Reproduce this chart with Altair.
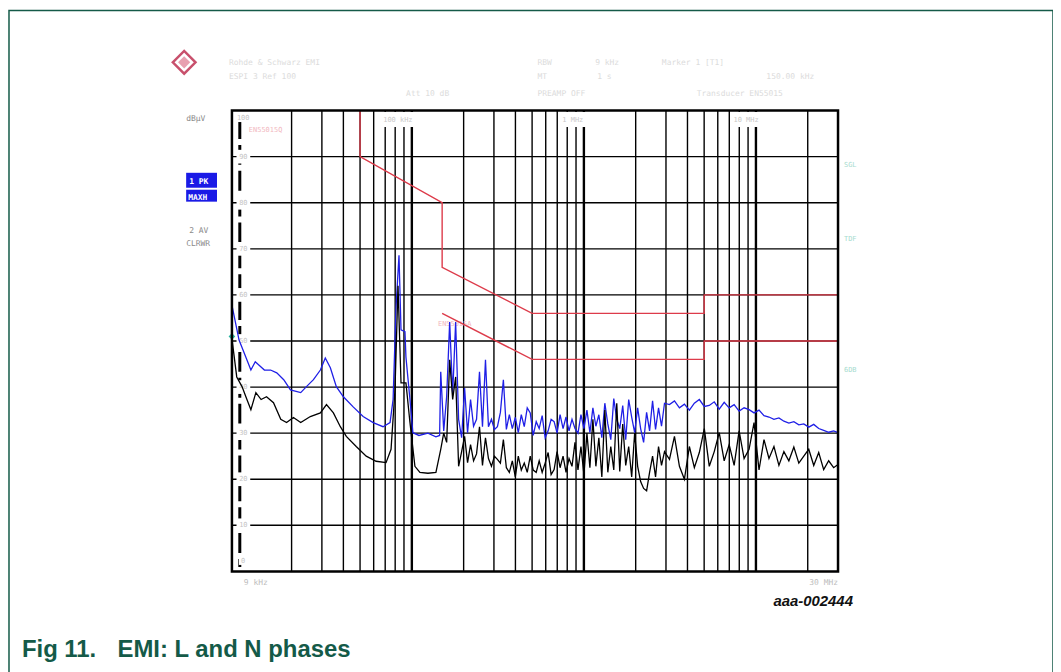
import altair as alt
import pandas as pd

# ---------------- data ----------------
# Low band (9 kHz .. 145 kHz) readings, frequency in kHz, level in dBuV
pk_low_freq = [9.0, 9.9, 10.55, 11.6, 12.3, 13.9, 15.1, 16.4, 18.0, 19.7, 22.6, 24.4, 26.8, 29.4,
               31.4, 33.6, 36.4, 40.0, 45.6, 52.1, 59.6, 68.0, 74.7, 77.8, 80.9, 84.2, 86.5, 91.2,
               92.4, 97.5, 101.4, 110, 124, 138, 145]
pk_low_level = [57.8, 50.2, 47.6, 43.7, 45.5, 43.7, 43.7, 43.1, 41.6, 39.4, 38.8, 40.1, 41.6, 43.7,
                46.3, 44.2, 40.1, 37.9, 35.7, 33.6, 32.3, 31.4, 32.3, 37.3, 57.3, 68.6, 52.4, 52.0,
                46.5, 37.3, 30.1, 29.5, 30.0, 29.2, 29.5]
av_low_freq = [9.0, 9.6, 10.3, 11.0, 11.6, 12.4, 13.3, 14.3, 15.7, 17.3, 18.7, 20.5, 22.6, 25.7,
               29.4, 31.9, 35.0, 38.4, 41.6, 47.5, 54.3, 62.0, 70.8, 75.7, 79.8, 83.1, 86.5, 92.4,
               97.5, 104.2, 111.4, 124, 138]
av_low_level = [50.5, 42.2, 40.1, 37.3, 35.1, 38.8, 37.3, 37.9, 36.6, 33.0, 32.3, 33.4, 32.3, 33.6,
                34.4, 36.2, 34.4, 31.4, 29.3, 27.1, 25.0, 23.9, 23.6, 26.5, 39.4, 62.0, 40.9, 40.9,
                32.3, 22.8, 21.5, 21.3, 21.5]

# High band (147 kHz .. 30 MHz) readings, shared frequency points in kHz
hi_freq = [147.2, 153.2, 159.4, 165.9, 172.7, 179.7, 187.0, 194.7, 202.6, 210.8,
           219.4, 228.4, 237.7, 247.3, 257.4, 267.9, 278.8, 290.2, 302.0, 314.3,
           327.1, 340.4, 354.3, 368.7, 383.7, 399.4, 415.6, 432.6, 450.2, 468.5,
           487.6, 507.5, 528.2, 549.7, 572.1, 595.4, 619.7, 644.9, 671.2, 698.5,
           727.0, 756.6, 787.4, 819.5, 852.9, 887.6, 923.8, 961.4, 1000.6, 1041.4,
           1083.8, 1128.0, 1173.9, 1221.8, 1271.5, 1323.3, 1377.2, 1433.3, 1491.7, 1552.5,
           1615.8, 1681.6, 1750.1, 1821.4, 1895.6, 1972.8, 2053.2, 2136.9, 2224.0, 2314.6,
           2408.9, 2507.0, 2609.1, 2715.4, 2826.1, 2941.2,
           3143.7, 3360.1, 3591.5, 3838.7, 4103.0, 4385.5, 4687.4, 5010.1, 5355.0, 5723.7,
           6117.7, 6538.9, 6989.0, 7470.2, 7984.5, 8534.2, 9121.7, 9749.6, 10420.8, 11138.2,
           11905.0, 12724.6, 13600.6, 14536.9, 15537.7, 16607.3, 17750.6, 18972.6, 20278.7, 21674.8,
           23167.0, 24761.9, 26466.6, 28288.7, 30000]
pk_hi_level = [43.3, 30.5, 38.0, 54.1, 38.5, 54.1, 33.0, 29.0, 39.8, 30.1,
               37.3, 31.5, 33.0, 43.3, 31.4, 45.9, 31.4, 33.0, 30.8, 31.4,
               34.5, 41.6, 30.8, 34.0, 31.0, 33.4, 30.1, 34.0, 31.4, 35.5,
               34.4, 29.5, 32.5, 31.0, 33.8, 29.0, 30.5, 33.0, 32.5, 30.0,
               34.0, 31.0, 33.5, 30.5, 33.0, 31.0, 30.0, 34.0, 31.0, 35.0,
               30.1, 35.5, 31.5, 34.0, 29.0, 36.5, 32.0, 28.6, 37.5, 33.0,
               31.0, 36.0, 28.6, 37.3, 33.5, 30.1, 35.5, 31.0, 28.0, 34.5,
               30.5, 37.0, 30.8, 35.5, 31.5, 36.5,
               36.2, 37.0, 35.5, 36.3, 35.0, 36.5, 37.3, 35.8, 36.0, 36.8,
               35.2, 36.7, 35.5, 36.2, 34.8, 35.5, 35.1, 34.4, 35.0, 33.8,
               33.5, 33.0, 33.3, 32.6, 32.2, 32.5, 31.8, 32.0, 31.3, 31.9,
               31.0, 30.6, 30.2, 30.5, 30.1]
av_hi_level = [26.5, 30.0, 28.0, 45.9, 37.3, 42.2, 22.8, 26.0, 29.3, 23.6,
               27.5, 24.0, 25.5, 31.4, 23.0, 29.0, 24.5, 22.8, 25.0, 24.3,
               23.5, 28.6, 22.5, 21.5, 24.0, 20.5, 25.0, 22.0, 23.5, 21.5,
               25.0, 22.0, 21.5, 24.0, 21.5, 23.5, 25.8, 21.0, 22.1, 26.0,
               22.5, 25.0, 21.5, 24.5, 22.8, 28.0, 22.0, 27.1, 21.0, 30.0,
               22.5, 33.0, 22.8, 29.0, 20.5, 35.0, 21.5, 27.1, 22.0, 36.5,
               21.7, 32.0, 23.0, 27.1, 20.5, 30.0, 22.8, 19.5, 18.0, 17.5,
               21.5, 25.0, 20.5, 27.1, 23.0, 26.0,
               24.3, 29.3, 22.8, 20.0, 27.1, 22.5, 25.8, 31.0, 22.8, 26.0,
               30.1, 24.0, 27.5, 23.0, 30.5, 24.5, 26.5, 32.3, 22.0, 28.6,
               24.5, 27.1, 23.0, 26.0, 24.0, 27.0, 23.5, 25.0, 26.5, 23.0,
               25.8, 22.1, 24.0, 22.5, 23.2]

# EN 55015 limit lines
qp_freq = [9, 50, 50, 150, 150, 500, 5000, 5000, 30000]
qp_level = [110, 110, 90, 80, 66, 56, 56, 60, 60]
av_lim_freq = [150, 500, 5000, 5000, 30000]
av_lim_level = [56, 46, 46, 50, 50]

# grid
grid_khz = [20, 30, 40, 50, 60, 70, 80, 90, 200, 300, 400, 500, 600, 700, 800, 900,
            2000, 3000, 4000, 5000, 6000, 7000, 8000, 9000, 20000]
decade_khz = [100, 1000, 10000]
dashed_khz = [10]
grid_db = [10, 20, 30, 40, 50, 60, 70, 80, 90]
grid_db_labels = ["10", "20", "30", "40", "50", "60", "70", "80", "90"]
marker_f = [9.0]
marker_db = [51.0]

# ---------------- layout ----------------
W, H = 609, 463
OX, OY = 233, 109.5          # page position of plot origin


def P(x, y):
    return x - OX, y - OY


ONE = pd.DataFrame({"k": [0]})
xs = alt.Scale(type="log", domain=[9, 30000], nice=False)
ys = alt.Scale(domain=[0, 100], nice=False, zero=False)


def T(s, x, y, size=8, color="#000", weight="normal", align="left", style="normal",
      font="DejaVu Sans Mono", baseline="alphabetic"):
    xx, yy = P(x, y)
    return alt.Chart(ONE).mark_text(text=s, align=align, baseline=baseline, fontSize=size,
                                    color=color, fontWeight=weight, fontStyle=style,
                                    font=font).encode(x=alt.value(xx), y=alt.value(yy))


def R(x1, y1, x2, y2, fill="white", stroke=None, sw=1.0, fill_op=1.0):
    a, b = P(x1, y1)
    c, d = P(x2, y2)
    kw = dict(fill=fill, fillOpacity=fill_op)
    if stroke:
        kw.update(stroke=stroke, strokeWidth=sw)
    return alt.Chart(ONE).mark_rect(**kw).encode(
        x=alt.value(a), x2=alt.value(c), y=alt.value(b), y2=alt.value(d))


layers = []
GREEN = "#145a48"

# outer figure frame
layers.append(R(9, 9, 1058, 700, fill="white", stroke=GREEN, sw=1.5, fill_op=0))

# grid
layers.append(alt.Chart(pd.DataFrame({"f": grid_khz})).mark_rule(color="black", strokeWidth=1.4)
              .encode(x=alt.X("f:Q", scale=xs, axis=None), y=alt.value(0), y2=alt.value(H)))
layers.append(alt.Chart(pd.DataFrame({"f": decade_khz})).mark_rule(color="black", strokeWidth=2.4)
              .encode(x=alt.X("f:Q", scale=xs, axis=None), y=alt.value(0), y2=alt.value(H)))
layers.append(alt.Chart(pd.DataFrame({"db": grid_db})).mark_rule(color="black", strokeWidth=1.4)
              .encode(y=alt.Y("db:Q", scale=ys, axis=None), x=alt.value(0), x2=alt.value(W)))
layers.append(alt.Chart(pd.DataFrame({"f": dashed_khz})).mark_rule(color="black", strokeWidth=3,
                                                                  strokeDash=[20, 6])
              .encode(x=alt.X("f:Q", scale=xs, axis=None), y=alt.value(P(0, 118)[1]),
                      y2=alt.value(P(0, 568)[1])))

# white label backgrounds and faint y labels
ydf = pd.DataFrame({"db": grid_db, "lab": grid_db_labels})
layers.append(alt.Chart(ydf).mark_square(size=190, color="white", opacity=1)
              .encode(y=alt.Y("db:Q", scale=ys, axis=None), x=alt.value(P(244.5, 0)[0])))
layers.append(alt.Chart(ydf).mark_text(fontSize=7, color="#c4c4c4", font="DejaVu Sans Mono")
              .encode(y=alt.Y("db:Q", scale=ys, axis=None), x=alt.value(P(244.5, 0)[0]),
                      text="lab:N"))
layers.append(R(237, 111, 262, 121))
layers.append(T("100", 238, 119, size=7, color="#c4c4c4"))
layers.append(R(240, 556, 250, 566))
layers.append(T("0", 242, 564, size=7, color="#c4c4c4"))
layers.append(T("EN55015Q", 250, 131, size=7, color="#f2b8c0"))

# faint marker labels at top of plot
for s, x0, x1 in [("100 kHz", 383, 445), ("1 MHz", 563, 610), ("10 MHz", 735, 780)]:
    layers.append(R(x0, 111, x1, 126))
    layers.append(T(s, x0 + 2, 121, size=7, color="#c8c8c8"))
layers.append(T("EN55015A", 440, 326, size=7, color="#f2b8c0"))

# limit lines
qp = pd.DataFrame({"f": qp_freq, "db": qp_level, "i": range(len(qp_freq))})
avl = pd.DataFrame({"f": av_lim_freq, "db": av_lim_level, "i": range(len(av_lim_freq))})
for d in (qp, avl):
    layers.append(alt.Chart(d).mark_line(color="#dd3b4a", strokeWidth=1.4, clip=True)
                  .encode(x=alt.X("f:Q", scale=xs, axis=None), y=alt.Y("db:Q", scale=ys, axis=None),
                          order="i:Q"))

# traces
pk_f = pk_low_freq + hi_freq
pk_l = pk_low_level + pk_hi_level
av_f = av_low_freq + hi_freq
av_l = av_low_level + av_hi_level
pk = pd.DataFrame({"f": pk_f, "db": pk_l, "i": range(len(pk_f))})
av = pd.DataFrame({"f": av_f, "db": av_l, "i": range(len(av_f))})
layers.append(alt.Chart(pk).mark_line(color="#1f1fe6", strokeWidth=1.3, clip=True)
              .encode(x=alt.X("f:Q", scale=xs, axis=None), y=alt.Y("db:Q", scale=ys, axis=None),
                      order="i:Q"))
layers.append(alt.Chart(av).mark_line(color="#000000", strokeWidth=1.3, clip=True)
              .encode(x=alt.X("f:Q", scale=xs, axis=None), y=alt.Y("db:Q", scale=ys, axis=None),
                      order="i:Q"))
layers.append(alt.Chart(pd.DataFrame({"f": marker_f, "db": marker_db}))
              .mark_point(shape="diamond", filled=True, color="#2ab3a0", size=45, opacity=1)
              .encode(x=alt.X("f:Q", scale=xs, axis=None), y=alt.Y("db:Q", scale=ys, axis=None)))

# plot border
layers.append(alt.Chart(ONE).mark_rect(fill="white", fillOpacity=0, stroke="black", strokeWidth=2.5)
              .encode(x=alt.value(0), x2=alt.value(W), y=alt.value(0), y2=alt.value(H)))

# left side labels
layers.append(T("dBµV", 187, 120, size=8, color="#8a8a8a"))
layers.append(R(187, 172, 218, 187, fill="#1a1ae6"))
layers.append(T("1 PK", 190, 183, size=8, color="white", weight="bold"))
layers.append(R(187, 189, 218, 201, fill="#1a1ae6"))
layers.append(T("MAXH", 189, 199, size=8, color="white", weight="bold"))
layers.append(T("2 AV", 190, 232, size=8, color="#8a8a8a"))
layers.append(T("CLRWR", 187, 246, size=8, color="#8a8a8a"))

# right side labels
layers.append(T("SGL", 848, 166, size=7, color="#a8dccf"))
layers.append(T("TDF", 848, 241, size=7, color="#a8dccf"))
layers.append(T("6DB", 848, 372, size=7, color="#a8dccf"))

# header (faint)
HC = "#dcdcdc"
for s, x, y in [("Rohde & Schwarz  EMI", 230, 64), ("ESPI 3   Ref 100", 230, 78),
                ("RBW", 540, 64), ("9 kHz", 598, 64), ("Marker 1 [T1]", 665, 64),
                ("MT", 540, 78), ("1 s", 600, 78), ("150.00 kHz", 770, 78),
                ("Att 10 dB", 408, 95), ("PREAMP OFF", 540, 95), ("Transducer  EN55015", 700, 95)]:
    layers.append(T(s, x, y, size=8, color=HC))

# R&S logo
lx, ly = P(185, 61)
layers.append(alt.Chart(ONE).mark_point(shape="diamond", filled=False, stroke="#c8506c",
                                        strokeWidth=2.5, size=520, opacity=1)
              .encode(x=alt.value(lx), y=alt.value(ly)))
layers.append(alt.Chart(ONE).mark_point(shape="diamond", filled=True, color="#e8a0b0",
                                        size=150, opacity=1)
              .encode(x=alt.value(lx), y=alt.value(ly)))

# bottom labels
layers.append(T("9 kHz", 245, 586, size=8, color="#bdbdbd"))
layers.append(T("30 MHz", 842, 586, size=8, color="#bdbdbd", align="right"))
layers.append(T("aaa-002444", 857, 607, size=15, color="#111", weight="bold", style="italic",
                font="Liberation Sans", align="right"))

# figure caption
layers.append(T("Fig 11.", 22, 659, size=24, color=GREEN, weight="bold", font="Liberation Sans"))
layers.append(T("EMI: L and N phases", 118, 659, size=24, color=GREEN, weight="bold",
                font="Liberation Sans"))

chart = alt.layer(*layers).properties(
    width=W, height=H,
    autosize=alt.AutoSizeParams(type="none"),
    padding={"left": 225, "top": 101.5, "right": 216, "bottom": 99.5},
).configure_view(stroke=None)

chart.save("out.html", embed_options={"renderer": "svg", "actions": False})
